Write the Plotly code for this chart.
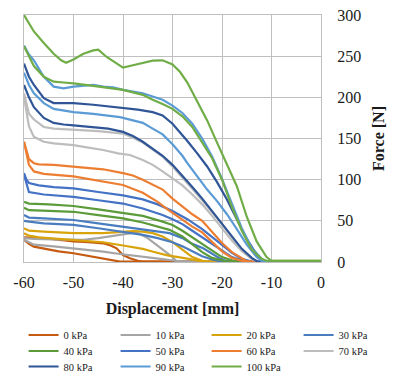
import plotly.graph_objects as go

# ---------------- data ----------------
pressures = ["0 kPa", "10 kPa", "20 kPa", "30 kPa", "40 kPa", "50 kPa",
             "60 kPa", "70 kPa", "80 kPa", "90 kPa", "100 kPa"]

# each test: list of (displacement [mm], force [N])
kpa0_a = [(-60, 30), (-59, 29.5), (-56, 29), (-53, 27), (-50, 25), (-47, 24), (-44, 22.7),
          (-42.5, 20), (-41.3, 16.6), (-40, 8.5), (-38.6, 4.5), (-37, 1.5), (-36, 0.5), (0, 0.5)]
kpa0_b = [(-60, 27), (-59, 22), (-58, 18.6), (-56, 16), (-53, 13), (-50, 10.6), (-47, 7.5),
          (-44, 4.5), (-42, 2), (-40.6, 0.5), (0, 0.5)]
kpa10_a = [(-60, 29), (-58, 28), (-54, 27.5), (-50, 27), (-48, 27), (-45, 29), (-42, 32),
           (-39, 35), (-37.3, 36), (-35, 29), (-33, 20), (-31, 10), (-30, 6), (-29.2, 1),
           (-28, 0.5), (0, 0.5)]
kpa10_b = [(-60, 27), (-59, 24), (-58, 21), (-54, 19), (-50, 16.6), (-47, 14.5), (-44, 12.5),
           (-41, 10), (-38.6, 8.5), (-35, 6), (-32, 3.5), (-30.6, 2.4), (-29, 1), (-28, 0.5), (0, 0.5)]
kpa20_a = [(-60, 41), (-59, 38), (-56, 37), (-50, 35), (-44, 35), (-40, 37), (-38, 37.5),
           (-36, 37), (-34, 35), (-32, 31), (-30, 24), (-28, 15), (-26, 6), (-24, 1.5),
           (-23, 0.5), (0, 0.5)]
kpa20_b = [(-60, 35), (-59, 32), (-57, 30), (-50, 27), (-44, 24), (-40, 20), (-38.6, 18.6),
           (-36, 16), (-33.9, 12.5), (-31, 8), (-27, 4), (-25, 1.5), (-23.8, 0.5), (0, 0.5)]
kpa30_a = [(-60, 57), (-59, 54), (-56, 53), (-50, 51), (-45, 47), (-40, 43), (-36, 40),
           (-33, 37), (-30.6, 35), (-28, 29), (-26, 22), (-23.8, 16.6), (-22, 10), (-20.5, 4.5),
           (-19, 1), (-18, 0.5), (0, 0.5)]
kpa30_b = [(-60, 50), (-59, 49), (-56, 47), (-50, 45), (-45, 41), (-40, 37), (-36, 33),
           (-33, 29), (-30, 24), (-28, 19), (-26, 13), (-24, 7), (-22, 3), (-20, 0.5), (0, 0.5)]
kpa40_a = [(-60, 73), (-59, 71), (-55, 70), (-50, 68), (-45, 64), (-40, 60), (-36, 56),
           (-32, 49), (-30, 45), (-28, 38), (-26, 30), (-24, 21), (-22, 13), (-20, 6), (-18, 2),
           (-17, 0.5), (0, 0.5)]
kpa40_b = [(-60, 66), (-59, 63), (-55, 62), (-50, 61), (-45, 57), (-40, 53), (-36, 48),
           (-33, 43), (-30.6, 39), (-28, 31), (-26, 22), (-24, 12), (-22, 5), (-20, 1.5),
           (-19, 0.5), (0, 0.5)]
kpa50_a = [(-60, 108), (-59.5, 100), (-59, 96), (-57, 93), (-54, 91), (-50, 89.5), (-45, 85),
           (-40, 81), (-36, 76), (-33, 70), (-30, 62), (-27, 52), (-24, 40), (-22, 30), (-20, 20),
           (-18, 11), (-16, 4), (-14.5, 1), (-14, 0.5), (0, 0.5)]
kpa50_b = [(-60, 106), (-59, 85), (-56, 82), (-50, 79), (-45, 75), (-40, 71), (-36, 65),
           (-32, 57), (-30, 52), (-28, 46), (-26, 38), (-24, 30), (-22, 22), (-20, 13), (-18, 6),
           (-16, 2), (-15, 0.5), (0, 0.5)]
kpa60_a = [(-60, 146), (-59.5, 135), (-59, 125), (-58, 120), (-57, 118.6), (-54, 118),
           (-50, 116), (-47, 114), (-44, 112.6), (-40, 108), (-38, 105), (-36, 100),
           (-34.6, 96), (-32, 88), (-30, 77), (-28, 67), (-26, 58), (-24, 50), (-22, 36),
           (-20, 23), (-18, 12), (-16, 4), (-15, 1), (-14.5, 0.5), (0, 0.5)]
kpa60_b = [(-60, 146), (-59.5, 130), (-59, 118), (-58, 110), (-56, 107), (-50, 104),
           (-45, 99), (-40, 93.5), (-36, 84), (-33, 73), (-31, 64), (-28, 51), (-26, 43),
           (-24, 36), (-22, 24), (-20, 13), (-18, 5), (-16, 1), (-15.5, 0.5), (0, 0.5)]
kpa70_a = [(-60, 205), (-59.5, 192), (-59, 180), (-58, 173), (-56, 164), (-54, 162),
           (-50, 161), (-45, 159), (-40, 156), (-38, 151), (-36, 145), (-34, 137), (-32, 128),
           (-30, 116), (-28, 103), (-26, 89), (-24, 75), (-22, 61), (-20, 46), (-18, 30),
           (-16, 15), (-14, 4), (-13, 1), (-12.5, 0.5), (0, 0.5)]
kpa70_b = [(-60, 200), (-59.5, 180), (-59, 165), (-58, 152), (-56, 146), (-54, 144),
           (-50, 142), (-47, 139), (-44, 136), (-41, 132), (-38.6, 130), (-36, 124), (-34, 118),
           (-32, 110), (-30, 102), (-28, 93), (-26, 82), (-24, 70), (-22, 56), (-20, 41),
           (-18, 26), (-16, 13), (-14, 4), (-13, 1), (-12.5, 0.5), (0, 0.5)]
kpa80_a = [(-60, 241), (-59, 225), (-58, 215), (-56, 199), (-54, 193), (-52, 193), (-50, 193),
           (-46, 191), (-43, 189), (-40, 187), (-37, 185), (-34, 182), (-32, 178), (-30, 168),
           (-28.5, 158), (-27, 147), (-25, 132), (-23, 116), (-21, 97), (-19, 76), (-17, 52),
           (-15, 28), (-13, 9), (-12, 2), (-11.5, 0.5), (0, 0.5)]
kpa80_b = [(-60, 215), (-59, 200), (-58, 188), (-56, 175), (-54, 169), (-52, 167), (-50, 166),
           (-46, 164), (-43, 162), (-40, 158), (-38, 153), (-36, 146), (-34, 138), (-32, 129),
           (-30, 118), (-28, 105), (-26, 91), (-24, 77), (-22, 62), (-20, 47), (-18, 31),
           (-16, 16), (-14, 5), (-13, 1), (-12.5, 0.5), (0, 0.5)]
kpa90_a = [(-60, 263), (-59, 252), (-58, 245), (-56, 225), (-54, 213), (-52, 211), (-50, 213),
           (-48, 214), (-46, 215), (-44, 213), (-42, 212), (-40, 209), (-38, 207), (-36, 205),
           (-34, 201), (-32, 197), (-30, 190), (-28, 181), (-26, 168), (-24, 150), (-22, 128),
           (-20, 101), (-18, 71), (-16, 41), (-14, 17), (-12, 4), (-11.5, 1), (0, 1)]
kpa90_b = [(-60, 230), (-59, 215), (-58, 205), (-56, 193), (-54, 186), (-52, 184), (-50, 182),
           (-46, 180), (-43, 178), (-40.6, 176), (-38, 172), (-36, 169), (-34, 162), (-32, 155),
           (-30, 143), (-28, 129), (-27, 120), (-25, 104), (-23, 88), (-21, 74), (-19, 58),
           (-17, 40), (-15, 21), (-13, 6), (-12, 1.5), (-11.5, 0.5), (0, 0.5)]
kpa100_a = [(-60, 300), (-59, 290), (-58, 280), (-56, 266), (-54, 253), (-52.5, 245),
            (-51.5, 242), (-50, 246), (-48, 253), (-46, 257), (-45, 258), (-43.3, 249),
            (-41, 240), (-40, 236), (-38, 239), (-36, 242), (-34, 244.5), (-32, 245), (-30, 240),
            (-28.5, 231), (-27, 218), (-25, 195), (-23, 172), (-21, 145), (-19, 118), (-17, 92),
            (-15, 55), (-13, 25), (-11, 6), (-10, 1.5), (0, 1.5)]
kpa100_b = [(-60, 262), (-59, 250), (-58, 238), (-56, 225), (-54, 219), (-52, 218), (-50, 217),
            (-46, 214), (-42, 211), (-40, 209), (-38, 206), (-36, 203), (-34, 197), (-32, 192),
            (-30, 186), (-28, 177), (-26, 164), (-24, 145), (-22, 126), (-20, 100), (-18, 67),
            (-16, 38), (-14, 15), (-12, 4), (-11, 1.5), (0, 1.5)]

tests_a = [kpa0_a, kpa10_a, kpa20_a, kpa30_a, kpa40_a, kpa50_a,
           kpa60_a, kpa70_a, kpa80_a, kpa90_a, kpa100_a]
tests_b = [kpa0_b, kpa10_b, kpa20_b, kpa30_b, kpa40_b, kpa50_b,
           kpa60_b, kpa70_b, kpa80_b, kpa90_b, kpa100_b]

x_tick_vals = [-60, -50, -40, -30, -20, -10, 0]
x_tick_text = ["-60", "-50", "-40", "-30", "-20", "-10", "0"]
y_tick_vals = [0, 50, 100, 150, 200, 250, 300]

# ---------------- styles ----------------
colors = ["#C55A11", "#A5A5A5", "#D9A30C", "#4A7DC0", "#5B9B3A", "#4472C4",
          "#ED7D31", "#BDBDBD", "#2F5597", "#5B9BD5", "#70AD47"]
FONT = "Liberation Serif"
GRID = "#BFBFBF"

# legend laid out as 4 columns x 3 rows; built from six 2-entry legends
legend_ids = ["legend", "legend2", "legend3", "legend4", "legend5", "legend6"]
row_tops = [320.5, 336.5, 352]      # px from top
half_x = [0.06, 0.5257]             # container fraction

fig = go.Figure()
for k, (name, col, ta, tb) in enumerate(zip(pressures, colors, tests_a, tests_b)):
    row, colidx = divmod(k, 4)
    lid = legend_ids[row * 2 + colidx // 2]
    for i, t in enumerate((ta, tb)):
        fig.add_trace(go.Scatter(
            x=[p[0] for p in t], y=[p[1] for p in t], mode="lines",
            name=name, legendgroup=name, showlegend=(i == 0),
            legend=lid,
            line=dict(color=col, width=2.2)))

legend_common = dict(orientation="h", xref="container", yref="container",
                     xanchor="left", yanchor="top",
                     font=dict(family=FONT, size=10.5, color="#1a1a1a"),
                     entrywidth=47, entrywidthmode="pixels",
                     tracegroupgap=0, traceorder="normal", itemwidth=30,
                     bgcolor="rgba(0,0,0,0)")
legends = {}
for idx, lid in enumerate(legend_ids):
    r, h = divmod(idx, 2)
    legends[lid] = dict(legend_common, x=half_x[h], y=1 - row_tops[r] / 376)

fig.update_layout(
    width=393, height=376,
    margin=dict(l=24, r=72, t=15, b=114),
    paper_bgcolor="white", plot_bgcolor="white",
    font=dict(family=FONT, color="#1a1a1a", size=16),
    xaxis=dict(range=[-60, 0], tickvals=x_tick_vals, ticktext=x_tick_text,
               showgrid=True, gridcolor=GRID, gridwidth=1.3,
               showline=True, linecolor=GRID, linewidth=1.3, mirror=True,
               zeroline=False, ticks="", ticklabelstandoff=6,
               tickfont=dict(family=FONT, size=16), automargin=False,
               title=dict(text="<b>Displacement [mm]</b>",
                          font=dict(family=FONT, size=16), standoff=12)),
    yaxis=dict(range=[0, 300], tickvals=y_tick_vals, side="right",
               showgrid=True, gridcolor=GRID, gridwidth=1.3,
               showline=True, linecolor=GRID, linewidth=1.3, mirror=True,
               zeroline=False, ticks="", ticklabelstandoff=12,
               tickfont=dict(family=FONT, size=16), automargin=False,
               title=dict(text="<b>Force [N]</b>",
                          font=dict(family=FONT, size=16), standoff=12)),
    showlegend=True,
    **legends,
)

fig.write_html("out.html")
